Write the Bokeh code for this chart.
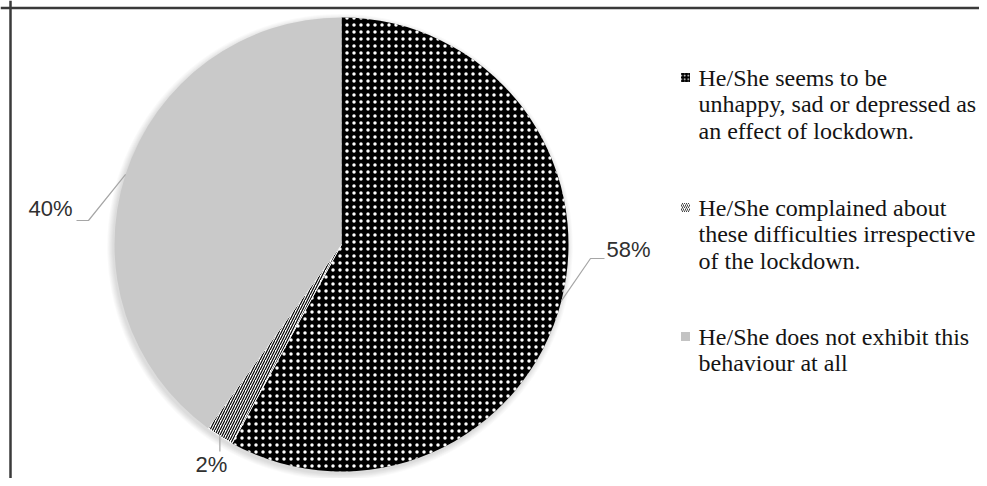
import math
from bokeh.plotting import figure
from bokeh.models import Range1d, Span
from bokeh.embed import file_html
from bokeh.resources import INLINE
from bokeh.core.properties import value

# ---------------- data ----------------
categories = [
    "He/She seems to be unhappy, sad or depressed as an effect of lockdown.",
    "He/She complained about these difficulties irrespective of the lockdown.",
    "He/She does not exhibit this behaviour at all",
]
legend_lines = [
    ["He/She seems to be", "unhappy, sad or depressed as", "an effect of lockdown."],
    ["He/She complained about", "these difficulties irrespective", "of the lockdown."],
    ["He/She does not exhibit this", "behaviour at all"],
]
shares = [58, 2, 40]
share_labels = ["58%", "2%", "40%"]

# ---------------- layout helpers (1 data unit = 1 screen pixel) ----------------
W, H = 979, 478
OFF = 0  # the picture is taken from the plot's top-left corner


def X(px):
    return px - OFF


def Y(py):
    return H - (py - OFF)


p = figure(width=W, height=H, x_range=Range1d(0, W), y_range=Range1d(0, H),
           output_backend="svg", toolbar_location=None, min_border=0,
           x_axis_type=None, y_axis_type=None, title=None)
p.grid.visible = False
p.outline_line_color = None
p.background_fill_color = "white"
p.border_fill_color = "white"

# frame lines (top and left only are visible in the reference)
p.add_layout(Span(location=Y(7.5), dimension="width", line_color="#3a3a3a", line_width=2.5))
p.add_layout(Span(location=X(10), dimension="height", line_color="#3a3a3a", line_width=2.5))

# ---------------- pie ----------------
cx, cy, R = X(341), Y(244), 227
total = float(sum(shares))

# soft shadow
for k in range(7):
    p.circle(x=cx - 1.5, y=cy - 2.5, radius=R + 0.5 + k * 0.9,
             fill_color="black", fill_alpha=0.02, line_color=None)

styles = [
    dict(fill_color="black", hatch_pattern="dot", hatch_color="white",
         hatch_scale=7, hatch_weight=1.2, line_color=None),
    dict(fill_color="white", hatch_pattern="right_diagonal_line", hatch_color="black",
         hatch_scale=5, hatch_weight=1.2, line_color="white", line_width=1),
    dict(fill_color="#c9c9c9", line_color=None),
]

cum = 0.0
mids = []
for v, st in zip(shares, styles):
    a0 = math.pi / 2 - 2 * math.pi * cum / total
    a1 = math.pi / 2 - 2 * math.pi * (cum + v) / total
    p.wedge(x=cx, y=cy, radius=R, start_angle=a0, end_angle=a1,
            direction="clock", **st)
    mids.append(math.pi / 2 - 2 * math.pi * (cum + v / 2.0) / total)
    cum += v

# ---------------- leader lines and labels ----------------
lead_col = "#a6a6a6"
edge = [(cx + R * math.cos(m), cy + R * math.sin(m)) for m in mids]

p.line(x=[edge[0][0], X(590), X(604)], y=[edge[0][1], Y(258), Y(258)],
       line_color=lead_col, line_width=1.2)
p.line(x=[edge[1][0], edge[1][0]], y=[edge[1][1], Y(451)],
       line_color=lead_col, line_width=1.2)
p.line(x=[edge[2][0], X(88), X(76)], y=[edge[2][1], Y(220), Y(220)],
       line_color=lead_col, line_width=1.2)

lab_font = dict(text_font=value("Liberation Sans"), text_font_size="22px",
                text_color="#303030", text_baseline="middle")
p.text(x=[X(606)], y=[Y(249)], text=[share_labels[0]], text_align="left", **lab_font)
p.text(x=[X(211)], y=[Y(464)], text=[share_labels[1]], text_align="center", **lab_font)
p.text(x=[X(72)], y=[Y(208)], text=[share_labels[2]], text_align="right", **lab_font)

# ---------------- legend ----------------
entry_top = [77, 207, 336]
line_gap = 26.5
marker_styles = [
    dict(fill_color="black", hatch_pattern="dot", hatch_color="white",
         hatch_scale=3.5, hatch_weight=0.8),
    dict(fill_color="white", hatch_pattern="right_diagonal_line", hatch_color="#444444",
         hatch_scale=4, hatch_weight=1.0),
    dict(fill_color="#c3c3c3"),
]
for i, lines in enumerate(legend_lines):
    y0 = entry_top[i]
    p.rect(x=[X(685)], y=[Y(y0)], width=9, height=9, line_color=None, **marker_styles[i])
    p.text(x=[X(698)] * len(lines), y=[Y(y0 + j * line_gap) for j in range(len(lines))],
           text=lines, text_align="left", text_baseline="middle",
           text_font=value("Liberation Serif"), text_font_size="24px",
           text_color="#141414")

open("out.html", "w").write(file_html(p, INLINE))
